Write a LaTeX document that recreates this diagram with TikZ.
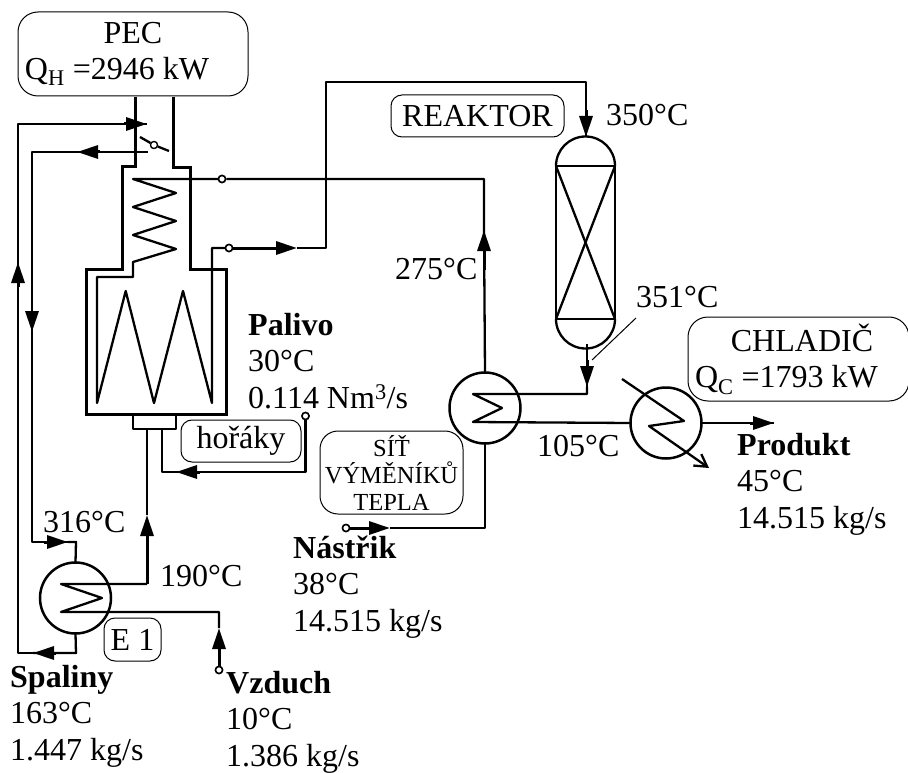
\documentclass[tikz,border=0pt]{standalone}
\usepackage{fontspec}
\setmainfont{Liberation Serif}
\usetikzlibrary{arrows.meta}
\tikzset{
    pipe/.style={line width=2.3pt,line join=round},
    flow/.style={line width=3pt,-{Triangle[length=21pt,width=13pt]}},
    thin line/.style={line width=1pt},
    txt/.style={font=\fontsize{32}{36.5}\selectfont,align=left,inner sep=0pt},
    tag/.style={txt,draw,align=center,line width=1pt,rounded corners=#1},
    vessel/.style={draw,circle,line width=2.5pt,minimum size=71pt,inner sep=0pt,outer sep=0pt},
    tap/.style={draw,circle,fill=white,line width=1.5pt,minimum size=7pt,inner sep=0pt}
}
\begin{document}
\begin{tikzpicture}[x=1pt,y=-1pt]
        \useasboundingbox (0,0) rectangle (908,773);

        \node[tag=20pt,minimum width=230pt,minimum height=84pt] (pec) at (133,54) {PEC\\Q\textsubscript{H} =2946 kW\hspace*{32pt}};
        \node[tag=11pt,minimum width=173pt,minimum height=42pt] (reaktor) at (477.5,116) {REAKTOR};
        \node[tag=20pt,minimum width=221pt,minimum height=84pt] (chladic) at (798.5,359) {\hspace*{7pt}CHLADIČ\\Q\textsubscript{C} =1793 kW\hspace*{24pt}};
        \node[tag=11pt,minimum width=120pt,minimum height=42pt] (horaky) at (241,441) {hořáky};
        \node[tag=11pt,minimum width=57pt,minimum height=43pt] (eone) at (132.5,639.5) {E 1};
        \node[tag=18pt,minimum width=143pt,minimum height=83pt,font=\fontsize{24.5}{27}\selectfont] (sit) at (391.5,472.5) {SÍŤ\\VÝMĚNÍKŮ\\TEPLA};

        \node[vessel] (E) at (75.5,598) {};
        \node[vessel] (V) at (485,408) {};
        \node[vessel] (C) at (666,423) {};
        \node[draw,pipe,minimum width=59pt,minimum height=153pt,inner sep=0pt,outer sep=0pt] (R) at (585.5,242.5) {};
        \node[draw,pipe,minimum width=43pt,minimum height=15pt,inner sep=0pt,outer sep=0pt] (B) at (154.5,421.5) {};

        \draw[pipe] (R.north west) arc (180:360:29.5);
        \draw[pipe] (R.south west) arc (180:0:29.5);
        \draw[pipe] (R.north west) -- (R.south east);
        \draw[pipe] (R.north east) -- (R.south west);

        \coordinate (dl) at (135,97);
        \coordinate (dr) at (173,97);
        \draw[line width=3pt] (dl) -- (135,167) -- (122,167) -- (122,269) -- (86,269) -- (86,414) -- (226,414) -- (226,269) -- (190,269) -- (190,168) -- (173,168) -- (dr);

        \node[tap] (tf) at (222,179) {};
        \node[tap] (to) at (229,248) {};
        \node[tap] (tp) at (305.5,416) {};
        \node[tap] (tn) at (346,528) {};
        \node[tap] (tv) at (219,670) {};
        \node[tap,line width=1.2pt] (td) at (154,145) {};

        \coordinate (ga) at (148,152);
        \coordinate (gb) at (77,152);
        \coordinate (gc) at (32,332);
        \coordinate (gd) at (68,542);
        \coordinate (ge) at (33,653);
        \coordinate (gf) at (18,262);
        \coordinate (gg) at (147,124);
        \draw[pipe] (ga) -- (gb);
        \draw[pipe] (gb) -- (32,152) -- (gc);
        \draw[pipe] (gc) -- (32,542) -- (gd);
        \draw[pipe] (gd) -- (76,542) -- (E.north);
        \draw[pipe] (E.south) -- (76,653) -- (ge);
        \draw[pipe] (ge) -- (18,653) -- (gf);
        \draw[pipe] (gf) -- (18,124) -- (gg);
        \draw[flow] (100,152) -- (gb);
        \draw[flow] (56,653) -- (ge);
        \draw[flow] (18,287) -- (gf);
        \draw[flow] (124,124) -- (gg);
        \draw[flow] (32,311) -- (gc);
        \draw[flow] (44,542) -- (gd);
        \draw[pipe] (140,137) -- (td) -- (169,151);

        \coordinate (aa) at (219,628);
        \coordinate (ab) at (147,515);
        \draw[flow] (tv) -- (aa);
        \draw[pipe] (aa) -- (219,612) -- (61,612) -- (102,598) -- (61,584) -- (147,584);
        \draw[flow] (147,584) -- (ab);
        \draw[pipe] (ab) -- (147,429);

        \coordinate (fa) at (176,472);
        \draw[pipe] (tp) -- (305.5,472) -- (fa);
        \draw[flow] (200,472) -- (fa);
        \draw[pipe] (fa) -- (162,472) -- (162,429);

        \coordinate (na) at (390,528);
        \coordinate (nb) at (484,230);
        \coordinate (nc) at (297,248);
        \coordinate (nd) at (586,137);
        \coordinate (ne) at (587,387);
        \coordinate (nf) at (774,423);
        \draw[flow] (tn) -- (na);
        \draw[pipe] (na) -- (485,528) -- (V.south);
        \draw[pipe] (V.north) -- (nb);
        \draw[flow] (484,270) -- (nb);
        \draw[pipe] (nb) -- (484,179) -- (tf) -- (133,179) -- (176,193) -- (133,207) -- (176,221) -- (133,235) -- (176,249) -- (133,262) -- (133,277) -- (97,277) -- (97,403) -- (125.7,291) -- (154,403) -- (183,291) -- (212,403) -- (212,248) -- (to);
        \draw[flow] (to) -- (nc);
        \draw[pipe] (nc) -- (326,248) -- (326,82) -- (586,82) -- (nd);
        \draw[flow] (586,110) -- (nd);
        \draw[pipe] (587,344) -- (ne);
        \draw[flow] (587,360) -- (ne);
        \draw[pipe] (ne) -- (587,394) -- (473,394) -- (502,408) -- (473,422) -- (C.west);
        \draw[pipe] (C.east) -- (nf);
        \draw[flow] (750,423) -- (nf);

        \draw[pipe,-{Straight Barb[length=12pt,width=14pt]}] (622,379) -- (684,421) -- (649,426) -- (709,468);
        \coordinate (la) at (592,360);
        \coordinate (lb) at (636,318);
        \draw[thin line] (la) -- (lb);

        \node[tap] at (tf) {};
        \node[tap] at (to) {};
        \node[tap] at (tp) {};
        \node[tap] at (tn) {};
        \node[tap] at (tv) {};
        \node[tap,line width=1.2pt] at (td) {};

        \node[txt,anchor=west] (t350) at (606,115) {350°C};
        \node[txt,anchor=west] (t351) at (636,297) {351°C};
        \node[txt,anchor=west] (t275) at (395,269) {275°C};
        \node[txt,anchor=west] (t105) at (537,446) {105°C};
        \node[txt,anchor=west] (t316) at (43,522) {316°C};
        \node[txt,anchor=west] (t190) at (160,576) {190°C};

        \node[txt,anchor=west] (palivo) at (248,361) {\textbf{Palivo}\\30°C\\0.114 Nm\textsuperscript{3}/s};
        \node[txt,anchor=west] (nastrik) at (293,587) {\textbf{Nástřik}\\38°C\\14.515 kg/s};
        \node[txt,anchor=west] (produkt) at (737,484) {\textbf{Produkt}\\45°C\\14.515 kg/s};
        \node[txt,anchor=west] (spaliny) at (10,716) {\textbf{Spaliny}\\163°C\\1.447 kg/s};
        \node[txt,anchor=west] (vzduch) at (226,722) {\textbf{Vzduch}\\10°C\\1.386 kg/s};
\end{tikzpicture}
\end{document}
